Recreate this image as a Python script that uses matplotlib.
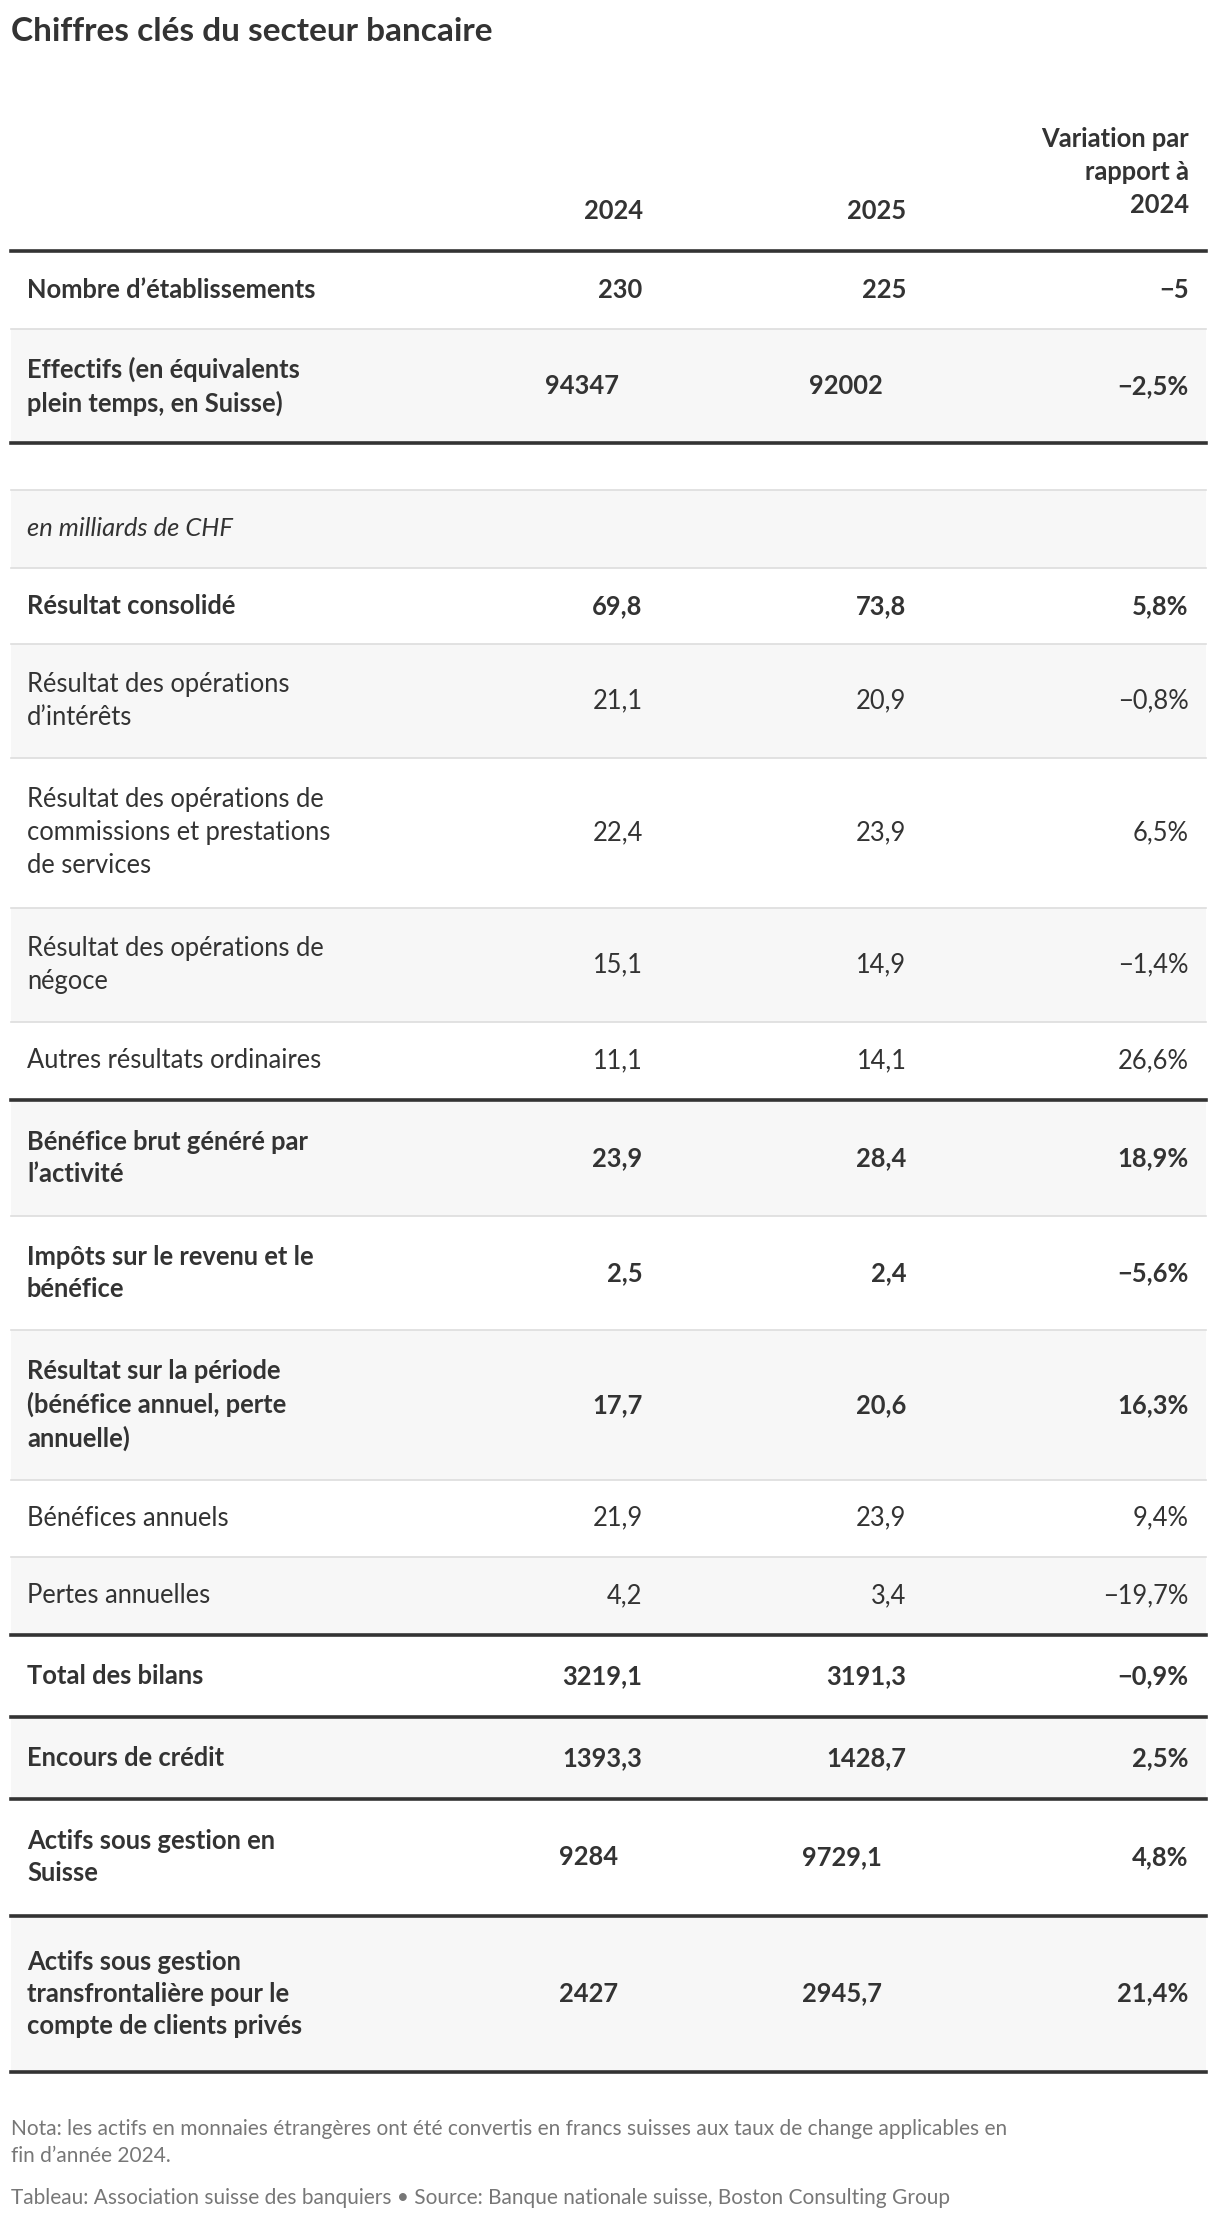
import matplotlib
matplotlib.use("Agg")
import matplotlib.pyplot as plt
from matplotlib.patches import Rectangle

plt.rcParams['font.family'] = ['Lato', 'DejaVu Sans']

title = "Chiffres clés du secteur bancaire"
col_headers = ["2024", "2025", "Variation par\nrapport à\n2024"]

labels = ["Nombre d’établissements", "Effectifs (en équivalents\nplein temps, en Suisse)",
          "en milliards de CHF", "Résultat consolidé", "Résultat des opérations\nd’intérêts",
          "Résultat des opérations de\ncommissions et prestations\nde services",
          "Résultat des opérations de\nnégoce", "Autres résultats ordinaires",
          "Bénéfice brut généré par\nl’activité", "Impôts sur le revenu et le\nbénéfice",
          "Résultat sur la période\n(bénéfice annuel, perte\nannuelle)", "Bénéfices annuels",
          "Pertes annuelles", "Total des bilans", "Encours de crédit",
          "Actifs sous gestion en\nSuisse", "Actifs sous gestion\ntransfrontalière pour le\ncompte de clients privés"]
v2024 = ["230", "94347", "", "69,8", "21,1", "22,4", "15,1", "11,1", "23,9", "2,5", "17,7",
         "21,9", "4,2", "3219,1", "1393,3", "9284", "2427"]
v2025 = ["225", "92002", "", "73,8", "20,9", "23,9", "14,9", "14,1", "28,4", "2,4", "20,6",
         "23,9", "3,4", "3191,3", "1428,7", "9729,1", "2945,7"]
variation = ["−5", "−2,5%", "", "5,8%", "−0,8%", "6,5%", "−1,4%", "26,6%", "18,9%", "−5,6%",
             "16,3%", "9,4%", "−19,7%", "−0,9%", "2,5%", "4,8%", "21,4%"]
bold = [1, 1, 0, 1, 0, 0, 0, 0, 1, 1, 1, 0, 0, 1, 1, 1, 1]
shifted = [0, 1, 0, 0, 0, 0, 0, 0, 0, 0, 0, 0, 0, 0, 0, 1, 1]

# layout (in reference display px, scaled)
S = 1220 / 860
bounds = [(177, 232), (232, 312), (345, 400), (400, 454), (454, 534), (534, 640), (640, 720),
          (720, 775), (775, 857), (857, 937), (937, 1043), (1043, 1097), (1097, 1152),
          (1152, 1210), (1210, 1268), (1268, 1350), (1350, 1460)]
shade = [0, 1, 1, 0, 1, 0, 1, 0, 1, 0, 1, 0, 1, 0, 1, 0, 1]
thick_after = {1, 7, 12, 13, 14, 15, 16}

fig = plt.figure(figsize=(12.2, 22.32), dpi=100)
ax = fig.add_axes([0, 0, 1, 1])
ax.set_xlim(0, 860)
ax.set_ylim(1573, 0)
ax.axis('off')

C = '#333333'
fs = 18.4
ax.text(8, 22, title, fontsize=24, fontweight='bold', color=C, va='center')
ax.text(453, 149, col_headers[0], fontsize=fs, fontweight='bold', color=C, ha='right', va='center')
ax.text(639, 149, col_headers[1], fontsize=fs, fontweight='bold', color=C, ha='right', va='center')
ax.text(838, 121, col_headers[2], fontsize=fs, fontweight='bold', color=C, ha='right', va='center',
        multialignment='right', linespacing=1.45)
ax.plot([8, 850], [177, 177], color=C, lw=2.6)

for i, (y0, y1) in enumerate(bounds):
    if shade[i]:
        ax.add_patch(Rectangle((8, y0), 842, y1 - y0, color='#f7f7f7', lw=0, zorder=0))
    yc = (y0 + y1) / 2
    w = 'bold' if bold[i] else 'normal'
    st = 'italic' if i == 2 else 'normal'
    ax.text(19, yc, labels[i], fontsize=fs, fontweight=w, style=st, color=C, va='center',
            linespacing=1.4)
    xa, xb = (436, 622) if shifted[i] else (453, 639)
    ax.text(xa, yc, v2024[i], fontsize=fs, fontweight=w, color=C, ha='right', va='center')
    ax.text(xb, yc, v2025[i], fontsize=fs, fontweight=w, color=C, ha='right', va='center')
    ax.text(838, yc, variation[i], fontsize=fs, fontweight=w, color=C, ha='right', va='center')
    if i in thick_after:
        ax.plot([8, 850], [y1, y1], color=C, lw=2.6, zorder=3)
    else:
        ax.plot([8, 850], [y1, y1], color='#dddddd', lw=1.2, zorder=2)
ax.plot([8, 850], [345, 345], color='#dddddd', lw=1.2)

G = '#777777'
ax.text(8, 1510, "Nota: les actifs en monnaies étrangères ont été convertis en francs suisses aux taux de change applicables en\nfin d’année 2024.",
        fontsize=15, color=G, va='center', linespacing=1.45)
ax.text(8, 1549, "Tableau: Association suisse des banquiers • Source: Banque nationale suisse, Boston Consulting Group",
        fontsize=15, color=G, va='center')

fig.savefig("out.png", dpi=100)
